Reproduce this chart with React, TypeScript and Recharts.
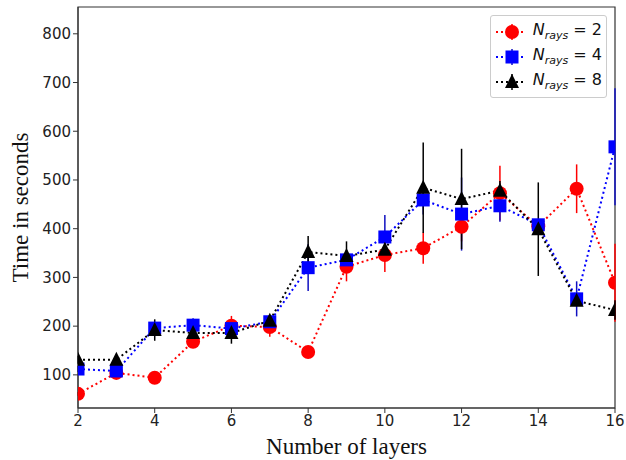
import React from 'react';
import { ComposedChart, Line, XAxis, YAxis, ErrorBar, ReferenceArea } from 'recharts';

// number of layers
const layers = [2, 3, 4, 5, 6, 7, 8, 9, 10, 11, 12, 13, 14, 15, 16];

// mean time in seconds for N_rays = 2, 4, 8
const time2 = [61, 104, 94, 168, 201, 198, 147, 322, 346, 360, 404, 473, 405, 482, 289];
const time4 = [112, 108, 196, 202, 195, 209, 320, 336, 383, 459, 430, 447, 408, 256, 568];
const time8 = [131, 131, 192, 186, 186, 211, 352, 344, 357, 484, 461, 478, 399, 252, 233];

// error bar half-widths
const err2 = [4, 6, 8, 8, 20, 20, 6, 30, 35, 32, 30, 56, 10, 50, 80];
const err4 = [6, 6, 8, 14, 12, 10, 48, 20, 45, 30, 75, 33, 12, 36, 120];
const err8 = [8, 8, 22, 10, 22, 10, 33, 30, 12, 93, 103, 20, 96, 10, 20];

const xTicks = [2, 4, 6, 8, 10, 12, 14, 16];
const yTicks = [100, 200, 300, 400, 500, 600, 700, 800];

const data = layers.map((l, i) => ({
  layers: l,
  t2: time2[i],
  t4: time4[i],
  t8: time8[i],
  e2: err2[i],
  e4: err4[i],
  e8: err8[i],
}));

const series = [
  { key: 't2', err: 'e2', color: '#ff0000', errColor: '#ff0000', n: 2, shape: 'circle' },
  { key: 't4', err: 'e4', color: '#0000ff', errColor: '#1010c0', n: 4, shape: 'square' },
  { key: 't8', err: 'e8', color: '#000000', errColor: '#000000', n: 8, shape: 'triangle' },
];

const Marker = ({ cx, cy, shape, color }: any) => {
  if (cx == null || cy == null) return null;
  if (shape === 'circle') return <circle cx={cx} cy={cy} r={7} fill={color} />;
  if (shape === 'square') return <rect x={cx - 6.5} y={cy - 6.5} width={13} height={13} fill={color} />;
  return <polygon points={`${cx},${cy - 8} ${cx + 7},${cy + 6} ${cx - 7},${cy + 6}`} fill={color} />;
};

const tickStyle = { fontSize: 15, fill: '#222', fontFamily: 'DejaVu Sans' };
const axisColor = '#333';

const LegendBox = () => (
  <div
    style={{
      position: 'absolute',
      top: 15,
      left: 490,
      width: 117,
      boxSizing: 'border-box',
      border: '1px solid #ccc',
      borderRadius: 3,
      background: 'rgba(255,255,255,0.8)',
      padding: '3px 4px',
      fontFamily: 'DejaVu Sans',
      fontSize: 16,
      color: '#111',
    }}
  >
    {series.map((s) => (
      <div key={s.key} style={{ display: 'flex', alignItems: 'center', height: 25 }}>
        <svg width={34} height={20} style={{ marginRight: 8 }}>
          <line x1={1} y1={10} x2={33} y2={10} stroke={s.color} strokeWidth={2} strokeDasharray="2 3" />
          <line x1={17} y1={2} x2={17} y2={18} stroke={s.errColor} strokeWidth={1.5} />
          <Marker cx={17} cy={10} shape={s.shape} color={s.color} />
        </svg>
        <span style={{ whiteSpace: 'nowrap' }}>
          <i>N</i>
          <sub style={{ fontSize: 11, fontStyle: 'italic' }}>rays</sub> = {s.n}
        </span>
      </div>
    ))}
  </div>
);

export default function App() {
  return (
    <div style={{ position: 'absolute', top: 0, left: 0, width: 626, height: 460, background: '#fff' }}>
      <ComposedChart width={626} height={460} data={data} margin={{ top: 7, right: 11, left: 0, bottom: 0 }}>
        <XAxis
          dataKey="layers"
          type="number"
          domain={[2, 16]}
          ticks={xTicks}
          allowDataOverflow
          height={52}
          stroke={axisColor}
          tick={tickStyle}
          tickSize={5}
          label={{
            value: 'Number of layers',
            position: 'insideBottom',
            offset: 6,
            style: { fontSize: 23, fill: '#111', fontFamily: 'Liberation Serif' },
          }}
        />
        <YAxis
          type="number"
          domain={[32, 855]}
          ticks={yTicks}
          allowDataOverflow
          width={78}
          stroke={axisColor}
          tick={tickStyle}
          tickSize={5}
          label={{
            value: 'Time in seconds',
            angle: -90,
            position: 'insideLeft',
            offset: 20,
            style: { textAnchor: 'middle', fontSize: 23, fill: '#111', fontFamily: 'Liberation Serif' },
          }}
        />
        <ReferenceArea x1={2} x2={16} y1={32} y2={855} fill="none" stroke={axisColor} strokeWidth={1.2} ifOverflow="visible" />
        {series.map((s) => (
          <Line
            key={s.key}
            dataKey={s.key}
            type="linear"
            stroke={s.color}
            strokeWidth={2}
            strokeDasharray="2 3"
            isAnimationActive={false}
            dot={(p: any) => <Marker key={`${s.key}-${p.index}`} cx={p.cx} cy={p.cy} shape={s.shape} color={s.color} />}
            activeDot={false}
          >
            <ErrorBar dataKey={s.err} direction="y" width={0} stroke={s.errColor} strokeWidth={1.5} />
          </Line>
        ))}
      </ComposedChart>
      <LegendBox />
    </div>
  );
}
